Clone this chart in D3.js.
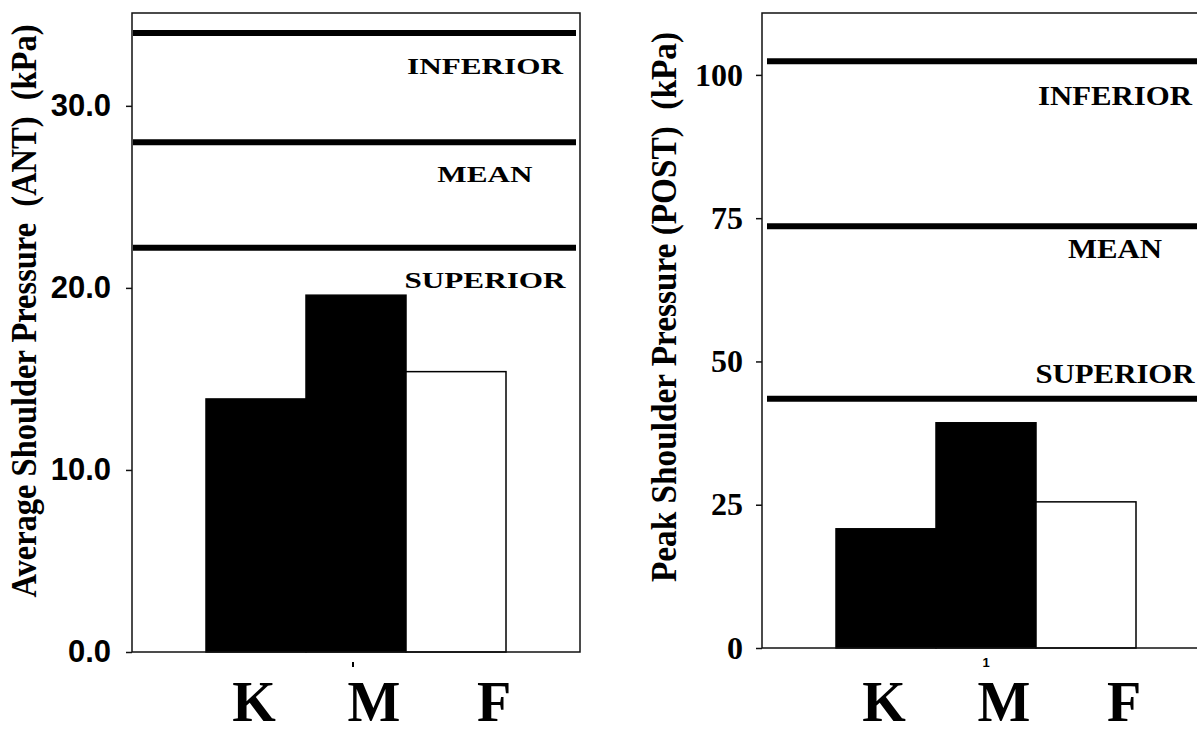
<!DOCTYPE html>
<html lang="en">
<head>
<meta charset="UTF-8">
<title>Shoulder Pressure - ANT / POST</title>
<style>
    body {
        margin: 0;
        background: #fff;
    }
    svg {
        display: block;
    }
    .serif {
        font-family: "Liberation Serif", "Times New Roman", serif;
        font-weight: bold;
    }
    .sans {
        font-family: "Liberation Sans", Arial, sans-serif;
        font-weight: bold;
    }
    .frame {
        fill: none;
        stroke: #111;
        stroke-width: 1.5px;
    }
    .ref-line {
        stroke: #000;
        stroke-width: 6px;
    }
</style>
</head>
<body>
<div id="chart"></div>
<script src="https://cdn.jsdelivr.net/npm/d3@7"></script>
<script>
var categories = ["K", "M", "F"];
var barFills = ["#000", "#000", "#fff"];
var refNames = ["INFERIOR", "MEAN", "SUPERIOR"];

// left panel: average pressure, anterior
var antValues = [13.9, 19.6, 15.4];
var antRefs = [34.0, 28.0, 22.2];
var antTicks = [0, 10, 20, 30];
var antTitle = "Average Shoulder Pressure  (ANT)  (kPa)";

// right panel: peak pressure, posterior
var postValues = [20.8, 39.3, 25.5];
var postRefs = [102.4, 73.6, 43.5];
var postTicks = [0, 25, 50, 75, 100];
var postTitle = "Peak Shoulder Pressure (POST)  (kPa)";

var svg = d3.select("#chart").append("svg")
    .attr("width", 1197)
    .attr("height", 734);

var panels = [
    {
        x0: 132, x1: 580, y0: 13, y1: 652, yMax: 35.1,
        values: antValues, refs: antRefs, ticks: antTicks,
        fmt: d3.format(".1f"), tickFont: "'Liberation Sans', Arial, sans-serif", tickSize: 31, tickPad: 15,
        labelSize: 24, labelScale: 1.3, labelDy: [41, 40, 40],
        title: antTitle, titleX: 36, titleY: 311, titleLen: 573,
        lineStart: 1, midLabel: ""
    },
    {
        x0: 762, x1: 1210, y0: 13, y1: 648, yMax: 110.8,
        values: postValues, refs: postRefs, ticks: postTicks,
        fmt: d3.format("d"), tickFont: "'Liberation Serif', 'Times New Roman', serif", tickSize: 32, tickPad: 13,
        labelSize: 28, labelScale: 1.1, labelDy: [44, 32, -16],
        title: postTitle, titleX: 676, titleY: 307, titleLen: 550,
        lineStart: 5, midLabel: "1"
    }
];

panels.forEach(drawPanel);

function drawPanel(p) {
    var g = svg.append("g");

    var y = d3.scaleLinear()
        .domain([0, p.yMax])
        .range([p.y1, p.y0]);

    var x = d3.scaleBand()
        .domain(categories)
        .range([p.x0, p.x1])
        .paddingInner(0)
        .paddingOuter(0.74);

    var letterX = d3.scalePoint()
        .domain(categories)
        .range([p.x0 + 122, p.x0 + 362]);

    // bars
    g.selectAll("rect.bar")
        .data(p.values)
        .enter().append("rect")
        .attr("class", "bar")
        .attr("x", function(d, i) { return x(categories[i]); })
        .attr("width", x.bandwidth())
        .attr("y", function(d) { return y(d); })
        .attr("height", function(d) { return y(0) - y(d); })
        .style("fill", function(d, i) { return barFills[i]; })
        .style("stroke", "#000")
        .style("stroke-width", 1.5);

    // frame
    g.append("rect")
        .attr("class", "frame")
        .attr("x", p.x0)
        .attr("y", p.y0)
        .attr("width", p.x1 - p.x0)
        .attr("height", p.y1 - p.y0);

    // y axis
    var axis = g.append("g")
        .attr("transform", "translate(" + p.x0 + ",0)")
        .call(d3.axisLeft(y)
            .tickValues(p.ticks)
            .tickSize(6)
            .tickPadding(p.tickPad)
            .tickFormat(p.fmt));
    axis.select(".domain").remove();
    axis.selectAll("line").style("stroke", "#111").style("stroke-width", 1.5);
    axis.selectAll("text")
        .style("font-family", p.tickFont)
        .style("font-weight", "bold")
        .style("font-size", p.tickSize + "px")
        .style("fill", "#000");

    // reference lines
    g.selectAll("line.ref-line")
        .data(p.refs)
        .enter().append("line")
        .attr("class", "ref-line")
        .attr("x1", p.x0 + p.lineStart)
        .attr("x2", p.x1 - 4)
        .attr("y1", function(d) { return y(d); })
        .attr("y2", function(d) { return y(d); });

    g.selectAll("text.ref-label")
        .data(p.refs)
        .enter().append("text")
        .attr("class", "serif ref-label")
        .attr("text-anchor", "middle")
        .style("font-size", p.labelSize + "px")
        .attr("transform", function(d, i) {
            return "translate(" + (p.x1 - 95) + "," + (y(d) + p.labelDy[i]) + ") scale(" + p.labelScale + ",1)";
        })
        .text(function(d, i) { return refNames[i]; });

    // category letters
    g.selectAll("text.cat")
        .data(categories)
        .enter().append("text")
        .attr("class", "serif cat")
        .attr("text-anchor", "middle")
        .attr("x", function(d) { return letterX(d); })
        .attr("y", 721)
        .style("font-size", "56px")
        .text(function(d) { return d; });

    // little x tick under the middle
    var mid = (p.x0 + p.x1) / 2 - 3;
    if (p.midLabel) {
        g.append("text")
            .attr("class", "sans")
            .attr("text-anchor", "middle")
            .attr("x", mid + 3)
            .attr("y", y(0) + 19)
            .style("font-size", "13px")
            .text(p.midLabel);
    } else {
        g.append("line")
            .attr("x1", mid).attr("x2", mid)
            .attr("y1", y(0) + 10).attr("y2", y(0) + 15)
            .style("stroke", "#000")
            .style("stroke-width", 2);
    }

    // axis title
    g.append("text")
        .attr("class", "serif")
        .attr("text-anchor", "middle")
        .attr("xml:space", "preserve")
        .style("white-space", "pre")
        .style("font-size", "30px")
        .attr("textLength", p.titleLen)
        .attr("lengthAdjust", "spacingAndGlyphs")
        .attr("transform", "translate(" + p.titleX + "," + p.titleY + ") scale(1.2,1) rotate(-90)")
        .text(p.title);
}
</script>
</body>
</html>
